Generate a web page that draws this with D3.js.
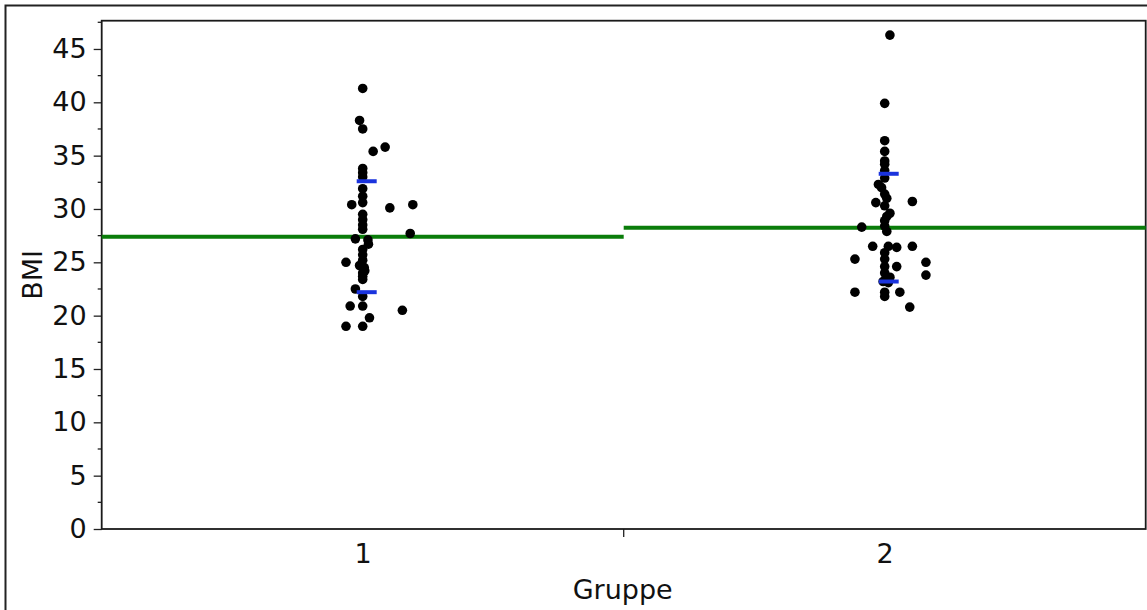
<!DOCTYPE html>
<html>
<head>
  <meta charset="utf-8">
  <script src="https://d3js.org/d3.v7.min.js"></script>
  <style type="text/css">
    body { margin: 0; background: #fff; }
    text { font-family: "DejaVu Sans", sans-serif; fill: #111; }
  </style>
</head>
<body>
  <div id="chartContainer"></div>
  <script type="text/javascript">
    // data: BMI values and a small sideways jitter (in group units)
    var groups = ['1', '2'];
    var g1BMI = [41.3, 38.3, 37.5, 35.8, 35.4, 33.8, 33.4, 33.0, 31.9, 31.2, 30.6, 30.4, 30.1, 30.4,
                 29.5, 29.0, 28.5, 28.1, 27.7, 27.2, 27.1, 26.7, 26.2, 25.7, 25.2, 25.0, 24.7, 24.5,
                 24.2, 24.0, 23.7, 23.4, 22.5, 21.8, 20.9, 20.9, 20.5, 19.8, 19.0, 19.0];
    var g1Jitter = [0, -0.006, 0, 0.043, 0.020, 0, 0, 0, 0, 0, 0, -0.021, 0.052, 0.096,
                    0, 0, 0, 0, 0.091, -0.014, 0.010, 0.011, 0, 0, 0, -0.032, -0.006, 0.003,
                    0.004, 0, 0, 0, -0.014, 0, -0.024, 0, 0.076, 0.013, -0.032, 0];
    var g2BMI = [46.3, 39.9, 36.4, 35.4, 34.5, 34.2, 33.6, 32.9, 32.3, 32.0, 31.4, 31.0, 30.6, 30.7,
                 30.3, 29.6, 29.3, 28.9, 28.3, 28.4, 27.9, 26.5, 26.5, 26.4, 26.5, 25.9, 25.3, 25.3,
                 25.0, 24.6, 24.6, 24.0, 23.8, 23.6, 23.2, 23.1, 22.2, 22.2, 22.2, 21.8, 20.8];
    var g2Jitter = [0.010, 0, 0, 0, 0, 0, 0, 0, -0.012, -0.006, 0, 0.004, -0.017, 0.053,
                    0, 0.010, 0.004, 0, -0.044, 0, 0.004, -0.023, 0.007, 0.023, 0.053, 0, -0.057, 0,
                    0.079, 0.023, 0, 0, 0.079, 0.010, -0.003, 0.007, -0.057, 0.029, 0, 0, 0.048];
    var groupMeans = [27.4, 28.25];
    var sdUpper = [32.6, 33.3];
    var sdLower = [22.2, 23.2];
    var yTicks = [0, 5, 10, 15, 20, 25, 30, 35, 40, 45];

    var W = 1147, H = 610;
    var pLeft = 101.7, pRight = 1145.7, pTop = 20.7, pBottom = 529;
    var fontSize = '27px';

    var svg = d3.select('#chartContainer').append('svg')
      .attr('width', W).attr('height', H);

    // outer frame
    svg.append('rect')
      .attr('x', 5.5).attr('y', 5.5).attr('width', W + 20).attr('height', H + 20)
      .attr('fill', 'none').attr('stroke', '#222').attr('stroke-width', 2);

    var x = d3.scaleLinear().domain([0.5, 2.5]).range([pLeft, pRight]);
    var y = d3.scaleLinear().domain([0, 47.65]).range([pBottom, pTop]);

    // y axis, major + minor ticks
    var yAxis = svg.append('g').attr('transform', 'translate(' + pLeft + ',0)')
      .call(d3.axisLeft(y).tickValues(yTicks).tickSize(8).tickPadding(7).tickSizeOuter(0));
    yAxis.attr('font-size', null).attr('font-family', null);
    yAxis.selectAll('text').style('font-size', fontSize);
    yAxis.selectAll('line').attr('stroke', '#222').attr('stroke-width', 1.3);
    yAxis.select('.domain').remove();

    var minor = yTicks.map(function(d) { return d + 2.5; }).filter(function(d) { return d < 47.65; });
    svg.append('g').selectAll('line').data(minor).enter().append('line')
      .attr('x1', pLeft - 4).attr('x2', pLeft)
      .attr('y1', function(d) { return y(d); }).attr('y2', function(d) { return y(d); })
      .attr('stroke', '#222').attr('stroke-width', 1.3);

    // x axis labels
    var xAxis = svg.append('g').attr('transform', 'translate(0,' + pBottom + ')')
      .call(d3.axisBottom(x).tickValues([1, 2]).tickFormat(function(d, i) { return groups[i]; })
        .tickSize(0).tickPadding(15));
    xAxis.attr('font-size', null).attr('font-family', null);
    xAxis.selectAll('text').style('font-size', fontSize);
    xAxis.select('.domain').remove();

    // separator tick between the groups
    svg.append('line')
      .attr('x1', x(1.5)).attr('x2', x(1.5)).attr('y1', pBottom).attr('y2', pBottom + 8)
      .attr('stroke', '#222').attr('stroke-width', 1.3);

    // plot frame
    svg.append('rect')
      .attr('x', pLeft).attr('y', pTop).attr('width', pRight - pLeft).attr('height', pBottom - pTop)
      .attr('fill', 'none').attr('stroke', '#1a1a1a').attr('stroke-width', 1.8);

    // axis titles
    svg.append('text')
      .attr('x', (pLeft + pRight) / 2 - 1).attr('y', 599)
      .attr('text-anchor', 'middle').style('font-size', fontSize)
      .text('Gruppe');
    svg.append('text')
      .attr('transform', 'translate(42,' + ((pTop + pBottom) / 2) + ') rotate(-90)')
      .attr('text-anchor', 'middle').style('font-size', fontSize)
      .text('BMI');

    // group mean lines
    svg.append('g').selectAll('line').data(groupMeans).enter().append('line')
      .attr('x1', function(d, i) { return x(i + 0.5); })
      .attr('x2', function(d, i) { return x(i + 1.5); })
      .attr('y1', function(d) { return y(d); }).attr('y2', function(d) { return y(d); })
      .attr('stroke', '#0a7d0a').attr('stroke-width', 4);

    // points
    var pts = [];
    g1BMI.forEach(function(v, i) { pts.push({ g: 1 + g1Jitter[i], v: v }); });
    g2BMI.forEach(function(v, i) { pts.push({ g: 2 + g2Jitter[i], v: v }); });

    svg.append('g').selectAll('circle').data(pts).enter().append('circle')
      .attr('cx', function(d) { return x(d.g); })
      .attr('cy', function(d) { return y(d.v); })
      .attr('r', 4.8)
      .attr('fill', '#000');

    // std dev markers
    var sd = [];
    groups.forEach(function(g, i) {
      sd.push({ g: i + 1, v: sdUpper[i] });
      sd.push({ g: i + 1, v: sdLower[i] });
    });
    svg.append('g').selectAll('line').data(sd).enter().append('line')
      .attr('x1', function(d) { return x(d.g) - 6; })
      .attr('x2', function(d) { return x(d.g) + 14; })
      .attr('y1', function(d) { return y(d.v); }).attr('y2', function(d) { return y(d.v); })
      .attr('stroke', '#1a33dd').attr('stroke-width', 4);
  </script>
</body>
</html>
